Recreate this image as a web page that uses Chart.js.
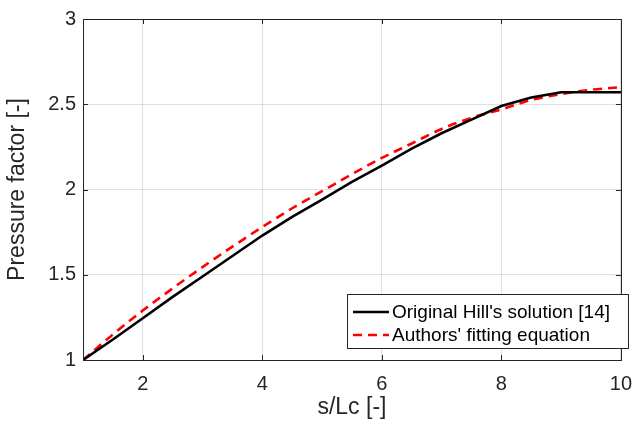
<!DOCTYPE html>
<html>
<head>
<meta charset="utf-8">
<title>Pressure factor vs s/Lc</title>
<script src="https://cdn.jsdelivr.net/npm/chart.js@4.4.1/dist/chart.umd.min.js"></script>
<style>
  html, body { margin: 0; padding: 0; background: #ffffff; }
  canvas { display: block; }
</style>
</head>
<body>
<canvas id="chart" width="644" height="427"></canvas>
<script>
// s/Lc ratio sampled every 0.5
const sRatio = [1, 1.5, 2, 2.5, 3, 3.5, 4, 4.5, 5, 5.5, 6, 6.5, 7, 7.5, 8, 8.5, 9, 9.5, 10];
// Original Hill's solution [14]
const hillFactor = [1.00, 1.12, 1.245, 1.37, 1.49, 1.61, 1.73, 1.84, 1.94, 2.045, 2.14, 2.24, 2.33, 2.41, 2.49, 2.54, 2.57, 2.57, 2.57];
// Authors' fitting equation
const fitFactor = [1.00, 1.15, 1.29, 1.42, 1.545, 1.665, 1.78, 1.89, 1.99, 2.09, 2.185, 2.27, 2.355, 2.42, 2.47, 2.525, 2.56, 2.585, 2.60];

const seriesLabels = ["Original Hill's solution [14]", "Authors' fitting equation"];
const xTicks = [2, 4, 6, 8, 10];
const yTicks = [1, 1.5, 2, 2.5, 3];

const FONT = "'Liberation Sans', Arial, Helvetica, sans-serif";
const INK = '#262626';

// Box around the axes, inward tick marks on all four sides, and the in-plot legend
const axesFrame = {
  id: 'axesFrame',
  afterDraw(chart) {
    const { ctx, chartArea: a, scales } = chart;
    ctx.save();
    ctx.strokeStyle = INK;
    ctx.lineWidth = 1;
    const tl = 5;
    ctx.beginPath();
    xTicks.forEach(v => {
      const px = Math.round(scales.x.getPixelForValue(v)) + 0.5;
      ctx.moveTo(px, a.bottom); ctx.lineTo(px, a.bottom - tl);
      ctx.moveTo(px, a.top); ctx.lineTo(px, a.top + tl);
    });
    yTicks.forEach(v => {
      const py = Math.round(scales.y.getPixelForValue(v)) + 0.5;
      ctx.moveTo(a.left, py); ctx.lineTo(a.left + tl, py);
      ctx.moveTo(a.right, py); ctx.lineTo(a.right - tl, py);
    });
    ctx.stroke();
    ctx.strokeRect(Math.round(a.left) + 0.5, Math.round(a.top) + 0.5,
                   Math.round(a.right - a.left), Math.round(a.bottom - a.top));

    // legend
    const bx = 347, by = 294, bw = 281, bh = 54;
    ctx.fillStyle = '#ffffff';
    ctx.fillRect(bx, by, bw, bh);
    ctx.strokeStyle = INK;
    ctx.lineWidth = 1;
    ctx.strokeRect(bx + 0.5, by + 0.5, bw, bh);
    ctx.font = '19px ' + FONT;
    ctx.textBaseline = 'middle';
    ctx.textAlign = 'left';
    chart.data.datasets.forEach((ds, i) => {
      const y = by + 18 + i * 23;
      ctx.beginPath();
      ctx.strokeStyle = ds.borderColor;
      ctx.lineWidth = 2.5;
      ctx.setLineDash(ds.borderDash || []);
      ctx.moveTo(bx + 6, y);
      ctx.lineTo(bx + 42, y);
      ctx.stroke();
      ctx.setLineDash([]);
      ctx.fillStyle = '#000000';
      ctx.fillText(ds.label, bx + 45, y + 1);
    });
    ctx.restore();
  }
};

const whiteBg = {
  id: 'whiteBg',
  beforeDraw(chart) {
    const { ctx, width, height } = chart;
    ctx.save();
    ctx.fillStyle = '#ffffff';
    ctx.fillRect(0, 0, width, height);
    ctx.restore();
  }
};

new Chart(document.getElementById('chart'), {
  type: 'line',
  data: {
    datasets: [
      {
        label: seriesLabels[0],
        data: sRatio.map((s, i) => ({ x: s, y: hillFactor[i] })),
        borderColor: '#000000',
        borderWidth: 2.6,
        pointRadius: 0,
        tension: 0,
        fill: false
      },
      {
        label: seriesLabels[1],
        data: sRatio.map((s, i) => ({ x: s, y: fitFactor[i] })),
        borderColor: '#ff0000',
        borderWidth: 2.6,
        borderDash: [9, 6],
        pointRadius: 0,
        cubicInterpolationMode: 'monotone',
        fill: false
      }
    ]
  },
  options: {
    responsive: false,
    devicePixelRatio: 1,
    animation: false,
    layout: { padding: { top: 17, right: 14, left: 0, bottom: 0 } },
    plugins: {
      legend: { display: false },
      tooltip: { enabled: false }
    },
    scales: {
      x: {
        type: 'linear',
        min: 1,
        max: 10,
        afterBuildTicks: s => { s.ticks = xTicks.map(v => ({ value: v })); },
        afterFit: s => { s.height = 67; },
        border: { display: false },
        grid: { color: 'rgba(0,0,0,0.12)', drawTicks: false, lineWidth: 1 },
        ticks: {
          padding: 12,
          color: INK,
          font: { family: FONT, size: 20 },
          maxRotation: 0,
          callback: v => String(v)
        },
        title: {
          display: true,
          text: 's/Lc [-]',
          color: INK,
          font: { family: FONT, size: 23 },
          padding: { top: 0, bottom: 6 }
        }
      },
      y: {
        type: 'linear',
        min: 1,
        max: 3,
        afterBuildTicks: s => { s.ticks = yTicks.map(v => ({ value: v })); },
        afterFit: s => { s.width = 83; },
        border: { display: false },
        grid: { color: 'rgba(0,0,0,0.12)', drawTicks: false, lineWidth: 1 },
        ticks: {
          padding: 7,
          color: INK,
          font: { family: FONT, size: 20 },
          callback: v => String(v)
        },
        title: {
          display: true,
          text: 'Pressure factor [-]',
          color: INK,
          font: { family: FONT, size: 23 },
          padding: { top: 4, bottom: 0 }
        }
      }
    }
  },
  plugins: [whiteBg, axesFrame]
});
</script>
</body>
</html>
